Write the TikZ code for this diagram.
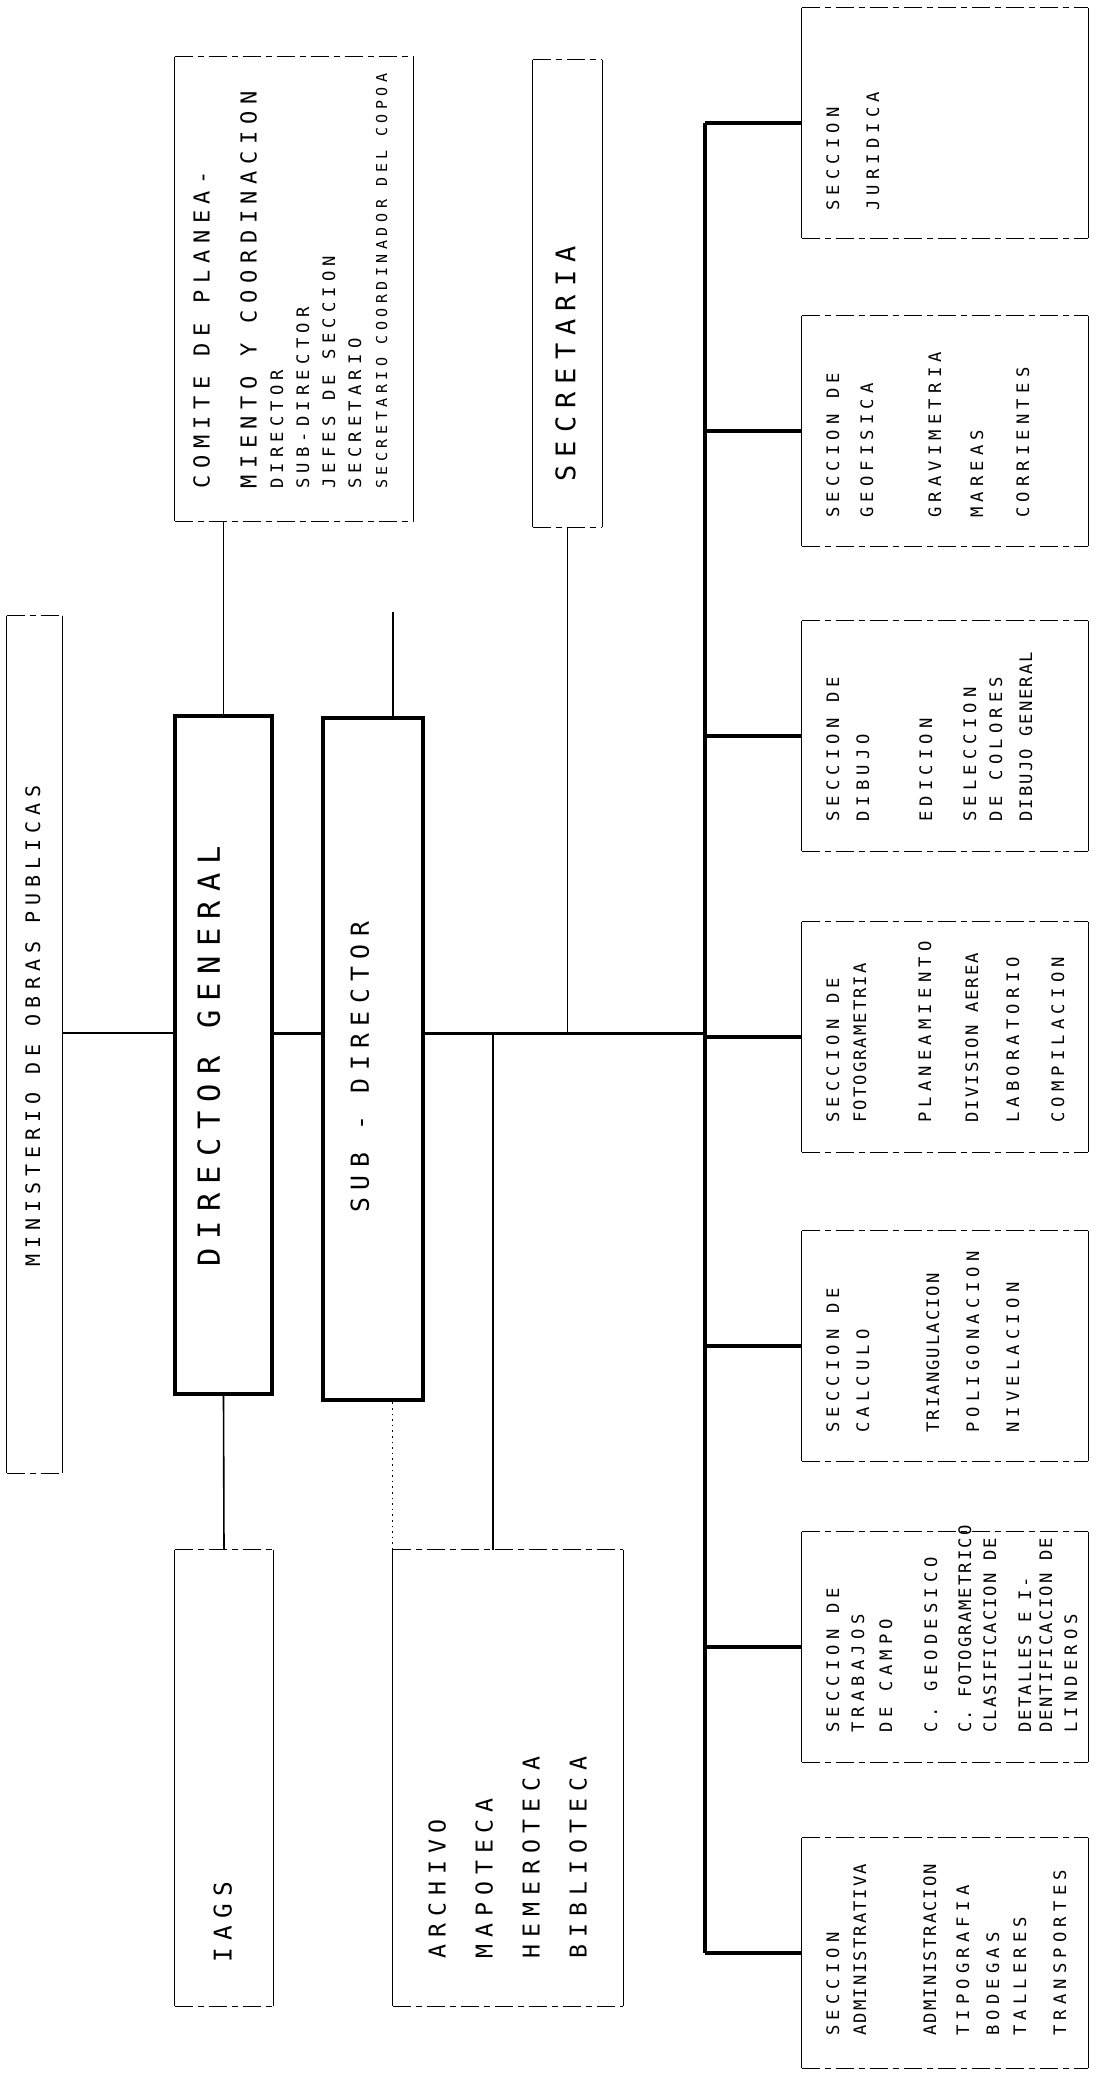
\documentclass[tikz,border=0pt]{standalone}
\usepackage{fontspec}
\newfontfamily\lett{DejaVu Sans Mono}[LetterSpace=30]
\newfontfamily\lettn{DejaVu Sans Mono}[LetterSpace=12]
\newcommand{\narrowline}[1]{{\lettn #1}}
\tikzset{
  unit/.style={rectangle, inner sep=0pt},
  sec/.style={unit, minimum width=143pt, minimum height=115pt},
  mainunit/.style={unit, draw, line width=1.7pt},
  side/.style={line width=0.8pt},
  edge/.style={line width=0.8pt, dash pattern=on 9pt off 2.5pt on 3pt off 2.5pt},
  lbl/.style={rotate=90, anchor=north west, align=left, inner sep=0pt,
    font=\lett\fontsize{8.6}{12.5}\selectfont},
  link/.style={line width=0.8pt},
  heavy/.style={line width=1.5pt},
  bus/.style={line width=2pt}
}
\begin{document}
\begin{tikzpicture}[x=0.5pt,y=-0.5pt]
  \useasboundingbox (0,0) rectangle (1096,2074);

  \node[unit, minimum width=27.5pt, minimum height=428.5pt] (ministerio) at (34.5,1044.5) {};
  \node[mainunit, minimum width=48.5pt, minimum height=339pt] (director) at (223.5,1055) {};
  \node[mainunit, minimum width=50pt, minimum height=341pt] (subdirector) at (373,1059) {};
  \node[unit, minimum width=119pt, minimum height=232pt] (comite) at (294,289) {};
  \node[unit, minimum width=34.5pt, minimum height=233.5pt] (secretaria) at (567.5,293.5) {};
  \node[unit, minimum width=49pt, minimum height=228pt] (iags) at (224,1778) {};
  \node[unit, minimum width=115pt, minimum height=228pt] (archivo) at (508,1778) {};
  \node[sec] (juridica) at (945,123) {};
  \node[sec] (geofisica) at (945,431) {};
  \node[sec] (dibujo) at (945,736) {};
  \node[sec] (fotogrametria) at (945,1037) {};
  \node[sec] (calculo) at (945,1346) {};
  \node[sec] (campo) at (945,1647) {};
  \node[sec] (administrativa) at (945,1953) {};

  \node[lbl, font=\lett\fontsize{10}{12}\selectfont] (ministerioT) at (25,1267) {MINISTERIO DE OBRAS PUBLICAS};
  \node[lbl, font=\lett\fontsize{15.2}{18}\selectfont] (directorT) at (197,1267) {DIRECTOR GENERAL};
  \node[lbl, font=\lett\fontsize{12.4}{15}\selectfont] (subdirectorT) at (350,1213) {SUB - DIRECTOR};
  \node[lbl, font=\lett\fontsize{11}{12.5}\selectfont] (comiteT) at (193,489) {COMITE DE PLANEA-\\[11pt]MIENTO Y COORDINACION};
  \node[lbl, font=\lett\fontsize{8.6}{13}\selectfont] (comiteL) at (270,489)
    {DIRECTOR\\SUB-DIRECTOR\\JEFES DE SECCION\\SECRETARIO\\{\fontsize{7.5}{9}\selectfont SECRETARIO COORDINADOR DEL COPOA}};
  \node[lbl, font=\lett\fontsize{13.5}{16}\selectfont] (secretariaT) at (555,482) {SECRETARIA};
  \node[lbl, font=\lett\fontsize{12.2}{15}\selectfont] (iagsT) at (213,1963) {IAGS};
  \node[lbl, font=\lett\fontsize{11.6}{23.5}\selectfont] (archivoT) at (428,1959) {ARCHIVO\\MAPOTECA\\HEMEROTECA\\BIBLIOTECA};
  \node[lbl] (juridicaT) at (826,211) {SECCION\\[7.5pt]JURIDICA};
  \node[lbl] (geofisicaT) at (826,518) {SECCION DE\\[4.5pt]GEOFISICA\\[21.5pt]GRAVIMETRIA\\[8.5pt]MAREAS\\[10.5pt]CORRIENTES};
  \node[lbl] (dibujoT) at (826,822) {SECCION DE\\[2.5pt]DIBUJO\\[19pt]EDICION\\[9.5pt]SELECCION\\[0.5pt]DE COLORES\\[2.5pt]\narrowline{DIBUJO GENERAL}};
  \node[lbl] (fotogrametriaT) at (826,1123) {SECCION DE\\[1pt]\narrowline{FOTOGRAMETRIA}\\[20pt]PLANEAMIENTO\\[11pt]\narrowline{DIVISION AEREA}\\[8pt]LABORATORIO\\[10pt]COMPILACION};
  \node[lbl] (calculoT) at (826,1433) {SECCION DE\\[2.5pt]CALCULO\\[22.5pt]\narrowline{TRIANGULACION}\\[7.5pt]POLIGONACION\\[7.5pt]NIVELACION};
  \node[lbl] (campoT) at (826,1733) {SECCION DE\\TRABAJOS\\[1.5pt]DE CAMPO\\[10pt]C. GEODESICO\\[4.5pt]\narrowline{C. FOTOGRAMETRICO}\\\narrowline{CLASIFICACION DE}\\[5pt]\narrowline{DETALLES E I-}\\[-2pt]\narrowline{DENTIFICACION DE}\\LINDEROS};
  \node[lbl] (administrativaT) at (826,2036) {SECCION\\[1pt]\narrowline{ADMINISTRATIVA}\\[22.5pt]\narrowline{ADMINISTRACION}\\[4pt]TIPOGRAFIA\\[2.5pt]BODEGAS\\[1pt]TALLERES\\[7.5pt]TRANSPORTES};

  \foreach \b in {ministerio,comite,secretaria,iags,archivo,juridica,geofisica,dibujo,fotogrametria,calculo,campo,administrativa}{
    \draw[side] (\b.north west) -- (\b.south west) (\b.north east) -- (\b.south east);
    \draw[edge] (\b.north west) -- (\b.north east) (\b.south west) -- (\b.south east);
  }

  \coordinate (bus) at (705,1033);
  \coordinate (archtap) at (493,1033);
  \coordinate (stub) at (393,612);
  \draw[bus] (bus |- juridica.west) -- (bus |- administrativa.west);
  \foreach \s in {juridica,geofisica,dibujo,fotogrametria,calculo,campo,administrativa}
    \draw[bus] (bus |- \s.west) -- (\s.west);
  \draw[heavy] (subdirector.east |- bus) -- (bus);
  \draw[heavy] (director.east |- bus) -- (subdirector.west |- bus);
  \draw[link] (ministerio.east |- bus) -- (director.west |- bus);
  \draw[link] (director.north |- comite.south) -- (director.north);
  \draw[link] (director.south) -- (iags.north);
  \draw[link] (secretaria.south) -- (secretaria.south |- bus);
  \draw[link] (archtap) -- (archtap |- archivo.north);
  \draw[link] (stub) -- (stub |- subdirector.north);
  \draw[link, dotted] (archivo.north west) -- (archivo.north west |- subdirector.south);
\end{tikzpicture}
\end{document}
